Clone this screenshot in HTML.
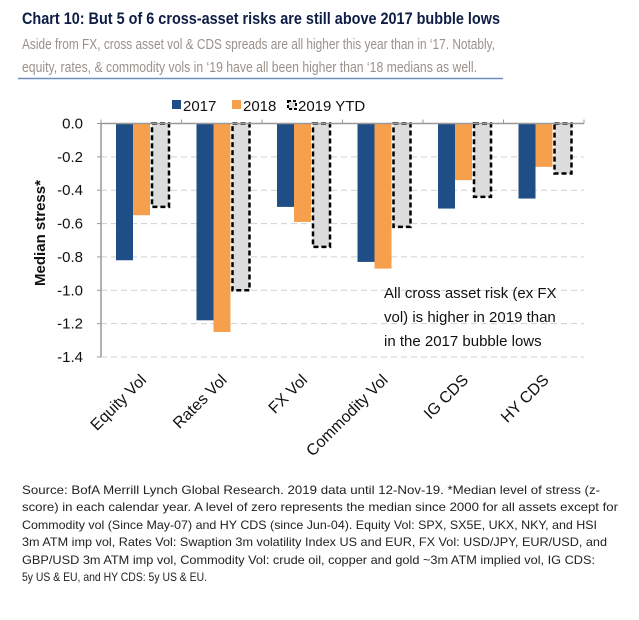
<!DOCTYPE html>
<html><head><meta charset="utf-8"><style>
html,body{margin:0;padding:0;background:#fff;}
svg{display:block;font-family:"Liberation Sans",sans-serif;}
</style></head><body>
<svg id="chart" width="639" height="620" viewBox="0 0 639 620" xmlns="http://www.w3.org/2000/svg">
<text x="22" y="24" font-size="17" font-weight="bold" fill="#0e1d45" textLength="478" lengthAdjust="spacingAndGlyphs">Chart 10: But 5 of 6 cross-asset risks are still above 2017 bubble lows</text>
<text x="22" y="49" font-size="15" fill="#9a918a" textLength="473" lengthAdjust="spacingAndGlyphs">Aside from FX, cross asset vol &amp; CDS spreads are all higher this  year than  in ‘17. Notably,</text>
<text x="22" y="72" font-size="15" fill="#9a918a" textLength="455" lengthAdjust="spacingAndGlyphs">equity, rates, &amp; commodity vols in ‘19 have all  been higher than ‘18 medians as well.</text>
<line x1="18" y1="78.5" x2="503" y2="78.5" stroke="#6b8fbf" stroke-width="1.5"/>
<g font-size="15" fill="#111">
<rect x="172" y="100" width="9" height="9" fill="#1f4e87"/>
<text x="183" y="111">2017</text>
<rect x="232" y="100" width="9" height="9" fill="#f6a04d"/>
<text x="243" y="111">2018</text>
<rect x="288" y="101" width="8" height="8" fill="#dcdcdc" stroke="#000" stroke-width="2" stroke-dasharray="3,2"/>
<text x="298" y="111">2019 YTD</text>
</g>
<g id="plot"></g>
<text transform="translate(45,233) rotate(-90)" text-anchor="middle" font-size="15" font-weight="bold" fill="#111">Median stress*</text>
<text font-size="15" fill="#111">
<tspan x="384" y="298">All cross asset risk (ex FX</tspan>
<tspan x="384" y="322">vol) is higher  in 2019 than</tspan>
<tspan x="384" y="346">in the 2017 bubble lows</tspan>
</text>
<g font-size="12" fill="#222">
<text x="22" y="494" textLength="578" lengthAdjust="spacingAndGlyphs">Source:  BofA Merrill Lynch Global Research. 2019 data until 12-Nov-19.  *Median level of stress (z-</text>
<text x="22" y="511" textLength="596" lengthAdjust="spacingAndGlyphs">score)  in each calendar year.  A level of zero represents the median since  2000  for all assets except for</text>
<text x="22" y="529" textLength="575" lengthAdjust="spacingAndGlyphs">Commodity  vol (Since  May-07) and HY CDS (since  Jun-04).  Equity  Vol: SPX,  SX5E,  UKX, NKY,  and HSI</text>
<text x="22" y="546" textLength="585" lengthAdjust="spacingAndGlyphs">3m ATM imp vol, Rates Vol: Swaption 3m volatility Index US and EUR,  FX Vol: USD/JPY,  EUR/USD,  and</text>
<text x="22" y="564" textLength="573" lengthAdjust="spacingAndGlyphs">GBP/USD  3m ATM imp vol, Commodity Vol:  crude oil, copper  and gold  ~3m ATM implied vol, IG CDS:</text>
<text x="22" y="581" textLength="185" lengthAdjust="spacingAndGlyphs">5y US &amp; EU, and  HY CDS:  5y US &amp; EU.</text>
</g>
</svg>
<script>
const categories = ["Equity Vol","Rates Vol","FX Vol","Commodity Vol","IG CDS","HY CDS"];
const s2017 = [-0.82,-1.18,-0.50,-0.83,-0.51,-0.45];
const s2018 = [-0.55,-1.25,-0.59,-0.87,-0.34,-0.26];
const s2019 = [-0.50,-1.00,-0.74,-0.62,-0.44,-0.30];
const yTicks = [0,-0.2,-0.4,-0.6,-0.8,-1.0,-1.2,-1.4];
const yTickLabels = ["0.0","-0.2","-0.4","-0.6","-0.8","-1.0","-1.2","-1.4"];

const NS="http://www.w3.org/2000/svg";
const plot=document.getElementById('plot');
const X0=101,X1=584,Y0=123.5,YB=357;
const yMin=-1.4,yMax=0;
function y(v){return Y0+(yMax-v)/(yMax-yMin)*(YB-Y0);}
const bandW=(X1-X0)/categories.length;
function xBand(i){return X0+i*bandW;}
function mk(tag,attrs){const e=document.createElementNS(NS,tag);for(const k in attrs)e.setAttribute(k,attrs[k]);plot.appendChild(e);return e;}

yTicks.forEach((t,i)=>{
  if(t!==0){const g=mk('line',{x1:X0,x2:X1,y1:y(t),y2:y(t),stroke:'#d0d0d0','stroke-width':1,'stroke-dasharray':'6,4'});
  
  }
  const tk=mk('line',{x1:X0-4,x2:X0,y1:y(t),y2:y(t),stroke:'#999'});
  
  
  const lb=mk('text',{x:83,y:y(t)+5,'text-anchor':'end','font-size':15,fill:'#111'});
  lb.textContent=yTickLabels[i];
  
  
});
const bw=17;
categories.forEach((c,i)=>{
  const x=xBand(i)+15;
  const b1=mk('rect',{x:x,y:y(0),width:bw,height:y(s2017[i])-y(0),fill:'#1f4e87'});
  
  
  const b2=mk('rect',{x:x+bw,y:y(0),width:bw,height:y(s2018[i])-y(0),fill:'#f6a04d'});
  
  
  const b3=mk('rect',{x:x+2*bw+2,y:y(0),width:bw,height:y(s2019[i])-y(0),fill:'#dcdcdc',stroke:'#000','stroke-width':2.5,'stroke-dasharray':'5,3'});
  
  
  const lx=xBand(i)+bandW/2+6;
  const lb=mk('text',{transform:`translate(${lx},${381}) rotate(-45)`,'text-anchor':'end','font-size':16,fill:'#111'});
  lb.textContent=c;
  
  
});
for(let i=0;i<=categories.length;i++){
  const t=mk('line',{x1:xBand(i),x2:xBand(i),y1:Y0,y2:Y0-4,stroke:'#999'});
  
  
}
const ax=mk('line',{x1:X0,x2:X1,y1:Y0,y2:Y0,stroke:'#999','stroke-width':1.5});


const ay=mk('line',{x1:X0,x2:X0,y1:Y0,y2:YB,stroke:'#999','stroke-width':1.5});


</script>
</body></html>
